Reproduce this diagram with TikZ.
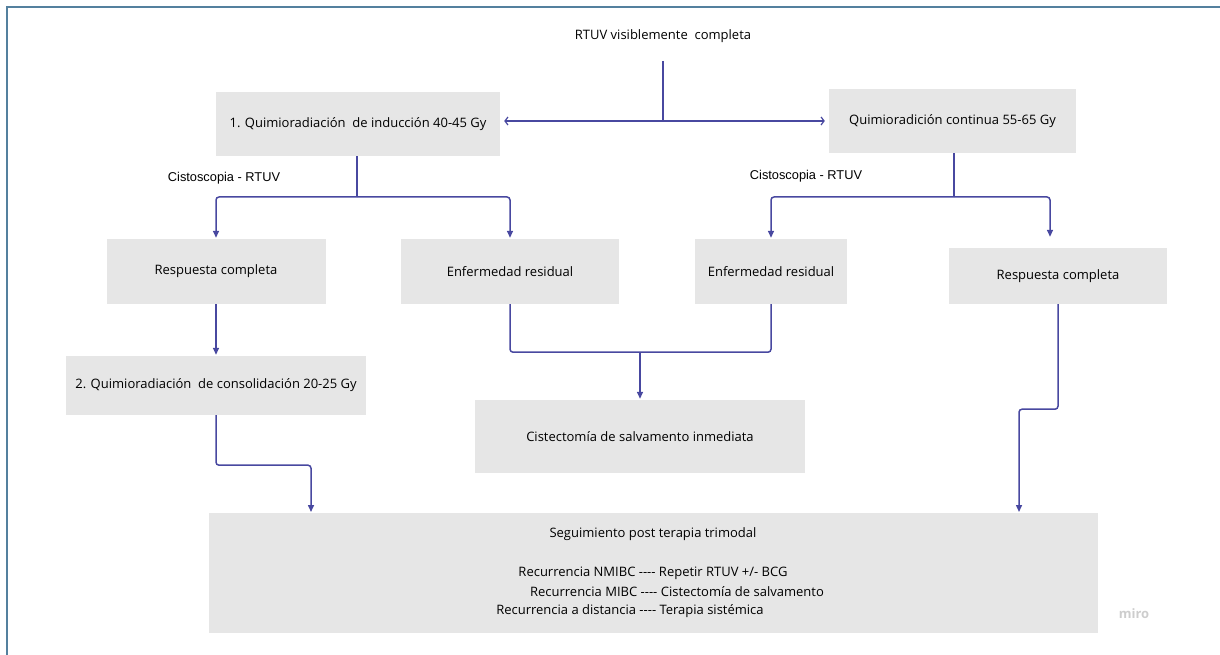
\documentclass[tikz,border=0pt]{standalone}
\usepackage{fontspec}
\setmainfont{Open Sans}
\newfontfamily\arialfont{Liberation Sans}
\usetikzlibrary{arrows.meta, positioning, calc}
\definecolor{boxgray}{RGB}{230,230,230}
\definecolor{linkblue}{RGB}{72,72,160}
\definecolor{framecol}{RGB}{84,128,158}
\definecolor{mirogray}{RGB}{205,205,205}

\begin{document}
\begin{tikzpicture}[x=1pt, y=-1pt,
    box/.style={fill=boxgray, inner sep=0pt, align=center, font=\fontsize{13}{15}\selectfont},
    lbl/.style={font=\arialfont\fontsize{12.8}{14}\selectfont},
    link/.style={linkblue, line width=1.5pt, rounded corners=3pt},
    arr/.style={link, -{Triangle[length=7pt,width=6pt]}, shorten >=1pt},
    biarr/.style={link, line width=1.2pt, {Straight Barb[length=3pt,width=8pt]}-{Straight Barb[length=3pt,width=8pt]}, shorten <=4pt, shorten >=4pt}]
    \useasboundingbox (0,0) rectangle (1220,655);
    \draw[framecol, line width=2.2pt] (7,670) -- (7,7) -- (1235,7);

    % top
    \node[font=\fontsize{13}{15}\selectfont] (t) at (663,36) {RTUV visiblemente\ \ completa};
    \node[box, minimum width=284pt, minimum height=64pt] (q1) at (358,124) {1. Quimioradiación\ \ de inducción 40-45 Gy};
    \node[box, minimum width=247pt, minimum height=64pt] (q2) at (952.5,121) {Quimioradición continua 55-65 Gy};
    \coordinate (split) at (663,121);
    \draw[link] ([yshift=-25pt]t.center) -- (split);
    \draw[biarr] (q1.east |- split) -- (q2.west |- split);

    % second row
    \node[lbl] (c1) at (224,178) {Cistoscopia - RTUV};
    \node[lbl] (c2) at (806,176) {Cistoscopia - RTUV};
    \node[box, minimum width=219pt, minimum height=65pt] (rc1) at (216,271.5) {Respuesta completa};
    \node[box, minimum width=218pt, minimum height=65pt] (er1) at (510,271.5) {Enfermedad residual};
    \node[box, minimum width=152pt, minimum height=65pt] (er2) at (771,271.5) {Enfermedad residual};
    \node[box, minimum width=218pt, minimum height=56pt] (rc2) at (1058,276) {Respuesta completa};

    \coordinate (b1) at (357,197);
    \coordinate (b2) at (954,197);
    \draw[link] (q1.south -| b1) -- (b1);
    \draw[arr] (b1) -| (rc1.north);
    \draw[arr] (b1) -| (er1.north);
    \draw[link] (q2.south -| b2) -- (b2);
    \draw[arr] (b2) -| (er2.north);
    \draw[arr] (b2) -| ([xshift=-8pt,yshift=10pt]rc2.north);

    % lower part
    \node[box, minimum width=300pt, minimum height=59pt] (q3) at (216,385.5) {2. Quimioradiación\ \ de consolidación 20-25 Gy};
    \node[box, minimum width=330pt, minimum height=73pt] (cs) at (640,436.5) {Cistectomía de salvamento inmediata};
    \node[box, minimum width=889pt, minimum height=120pt] (seg) at (653.5,573) {};
    \node[box, fill=none] (s0) at (653,534) {Seguimiento post terapia trimodal};
    \node[box, fill=none] (s1) at (653,573) {Recurrencia NMIBC {-}{-}{-}{-} Repetir RTUV +/- BCG};
    \node[box, fill=none] (s2) at (677,592) {Recurrencia MIBC {-}{-}{-}{-} Cistectomía de salvamento};
    \node[box, fill=none] (s3) at (630,611) {Recurrencia a distancia {-}{-}{-}{-} Terapia sistémica};
    \node[text=mirogray, font=\bfseries\fontsize{13}{15}\selectfont] (miro) at (1134,614) {miro};

    \coordinate (j) at (640,352);
    \coordinate (in1) at (311,513);
    \coordinate (in2) at (1019,513);
    \draw[arr] (rc1.south) -- (rc1.south |- q3.north);
    \draw[link] (er1.south) -- ++(0,48) -| (er2.south);
    \draw[arr] (j) -- (cs.north);
    \draw[arr] (q3.south) -- ++(0,50) -| (in1);
    \draw[arr] (rc2.south) -- ++(0,105) -| (in2);
\end{tikzpicture}
\end{document}
